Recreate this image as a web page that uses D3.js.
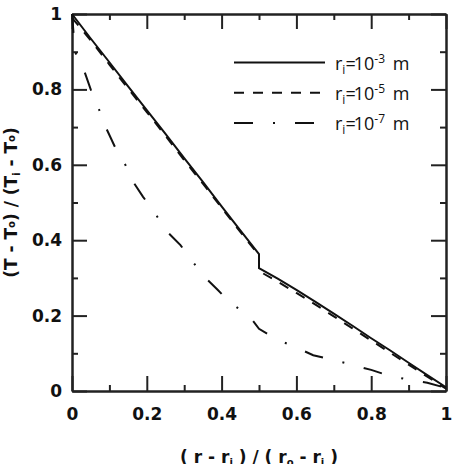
<!DOCTYPE html>
<html>
<head>
<meta charset="utf-8">
<script src="https://cdn.jsdelivr.net/npm/d3@7"></script>
<style>
  body { margin: 0; background: #fff; }
  svg { display: block; }
</style>
</head>
<body>
<div id="chart"></div>
<script>
var w = 456;
var h = 464;

// r_i = 1e-3 m (solid)
var x1 = [0, 0.05, 0.1, 0.15, 0.2, 0.25, 0.3, 0.35, 0.4, 0.45, 0.5, 0.5, 0.55, 0.6, 0.65, 0.7, 0.75, 0.8, 0.85, 0.9, 0.95, 1];
var y1 = [1, 0.935, 0.872, 0.808, 0.745, 0.682, 0.618, 0.555, 0.49, 0.426, 0.363, 0.326, 0.298, 0.268, 0.237, 0.205, 0.173, 0.14, 0.108, 0.075, 0.042, 0.01];
// r_i = 1e-5 m (dashed)
var x2 = [0, 0.05, 0.1, 0.15, 0.2, 0.25, 0.3, 0.35, 0.4, 0.45, 0.5, 0.5, 0.55, 0.6, 0.65, 0.7, 0.75, 0.8, 0.85, 0.9, 0.95, 1];
var y2 = [0.99, 0.93, 0.866, 0.802, 0.74, 0.677, 0.612, 0.55, 0.486, 0.422, 0.36, 0.318, 0.29, 0.26, 0.23, 0.198, 0.166, 0.134, 0.102, 0.07, 0.038, 0.006];
// r_i = 1e-7 m (dash-dot)
var x3 = [0, 0.008, 0.032, 0.05, 0.07, 0.09, 0.115, 0.137, 0.16, 0.19, 0.222, 0.25, 0.29, 0.32, 0.35, 0.39, 0.42, 0.476, 0.5, 0.545, 0.596, 0.645, 0.7, 0.75, 0.8, 0.85, 0.9, 0.95, 1];
var y3 = [1, 0.9, 0.851, 0.8, 0.753, 0.7, 0.647, 0.613, 0.56, 0.515, 0.472, 0.427, 0.387, 0.347, 0.307, 0.268, 0.237, 0.196, 0.165, 0.138, 0.117, 0.095, 0.082, 0.069, 0.056, 0.04, 0.03, 0.022, 0.008];

var majorTicks = [0, 0.2, 0.4, 0.6, 0.8, 1];
var minorTicks = [0.1, 0.3, 0.5, 0.7, 0.9];
var tickLabels = ["0", "0.2", "0.4", "0.6", "0.8", "1"];
var legendExp = ["-3", "-5", "-7"];

var pL = 72, pR = 446, pT = 14, pB = 391;

var svg = d3.select("#chart").append("svg")
            .attr("width", w)
            .attr("height", h);

var x = d3.scaleLinear().domain([0, 1]).range([pL, pR]);
var y = d3.scaleLinear().domain([0, 1]).range([pB, pT]);

function styleAxis(g) {
  g.selectAll("path").attr("stroke", "#222").attr("stroke-width", 2);
  g.selectAll("line").attr("stroke", "#222").attr("stroke-width", 2);
  g.selectAll("text").attr("font-family", "DejaVu Sans").attr("font-weight", "bold")
    .attr("font-size", "17px").attr("fill", "#111");
}

function fmt(d) { return tickLabels[majorTicks.indexOf(d)]; }

// bottom
svg.append("g").attr("transform", "translate(0," + pB + ")")
   .call(d3.axisBottom(x).tickValues(majorTicks).tickFormat(fmt).tickSizeInner(-15).tickSizeOuter(0).tickPadding(17))
   .call(styleAxis);
svg.append("g").attr("transform", "translate(0," + pB + ")")
   .call(d3.axisBottom(x).tickValues(minorTicks).tickFormat("").tickSizeInner(-6).tickSizeOuter(0))
   .call(styleAxis);
// top
svg.append("g").attr("transform", "translate(0," + pT + ")")
   .call(d3.axisTop(x).tickValues(majorTicks).tickFormat("").tickSizeInner(-15).tickSizeOuter(0))
   .call(styleAxis);
svg.append("g").attr("transform", "translate(0," + pT + ")")
   .call(d3.axisTop(x).tickValues(minorTicks).tickFormat("").tickSizeInner(-6).tickSizeOuter(0))
   .call(styleAxis);
// left
svg.append("g").attr("transform", "translate(" + pL + ",0)")
   .call(d3.axisLeft(y).tickValues(majorTicks).tickFormat(fmt).tickSizeInner(-15).tickSizeOuter(0).tickPadding(10))
   .call(styleAxis);
svg.append("g").attr("transform", "translate(" + pL + ",0)")
   .call(d3.axisLeft(y).tickValues(minorTicks).tickFormat("").tickSizeInner(-6).tickSizeOuter(0))
   .call(styleAxis);
// right
svg.append("g").attr("transform", "translate(" + pR + ",0)")
   .call(d3.axisRight(y).tickValues(majorTicks).tickFormat("").tickSizeInner(-15).tickSizeOuter(0))
   .call(styleAxis);
svg.append("g").attr("transform", "translate(" + pR + ",0)")
   .call(d3.axisRight(y).tickValues(minorTicks).tickFormat("").tickSizeInner(-6).tickSizeOuter(0))
   .call(styleAxis);

var line = d3.line().x(function(d) { return x(d[0]); }).y(function(d) { return y(d[1]); });

var series = [
  { xs: x1, ys: y1, dash: null },
  { xs: x2, ys: y2, dash: "10,9" },
  { xs: x3, ys: y3, dash: "19,20,2,20" }
];

series.forEach(function(s) {
  var pts = s.xs.map(function(v, i) { return [v, s.ys[i]]; });
  svg.append("path")
     .attr("d", line(pts))
     .attr("fill", "none")
     .attr("stroke", "#111")
     .attr("stroke-width", 2)
     .attr("stroke-dasharray", s.dash);
});

// legend
var legend = svg.selectAll("g.legend")
                .data(series)
                .enter()
                .append("g")
                .attr("class", "legend")
                .attr("transform", function(d, i) { return "translate(0," + (62.5 + i * 30.2) + ")"; });

legend.append("line")
      .attr("x1", 234).attr("x2", 325)
      .attr("y1", 0).attr("y2", 0)
      .attr("stroke", "#111")
      .attr("stroke-width", 2)
      .attr("stroke-dasharray", function(d) { return d.dash; });

var lt = legend.append("text")
      .attr("x", 335).attr("y", 7.5)
      .attr("font-family", "Open Sans")
      .attr("font-size", "18px")
      .attr("fill", "#111");
lt.append("tspan").text("r");
lt.append("tspan").attr("font-size", "12px").attr("dy", 4).text("i");
lt.append("tspan").attr("dy", -4).attr("letter-spacing", "-2px").text("=");
lt.append("tspan").text("10");
lt.append("tspan").attr("font-size", "12px").attr("dy", -7).text(function(d, i) { return legendExp[i]; });
lt.append("tspan").attr("dy", 7).attr("dx", 3).text(" m");

// axis titles
var xt = svg.append("text")
   .attr("x", (pL + pR) / 2)
   .attr("y", 463)
   .attr("text-anchor", "middle")
   .attr("font-family", "DejaVu Sans")
   .attr("font-weight", "bold")
   .attr("font-size", "17px")
   .attr("fill", "#111");
xt.append("tspan").text("( r - r");
xt.append("tspan").attr("font-size", "10px").attr("dy", 3).text("i");
xt.append("tspan").attr("dy", -3).text(" ) / ( r");
xt.append("tspan").attr("font-size", "10px").attr("dy", 3).text("o");
xt.append("tspan").attr("dy", -3).text(" - r");
xt.append("tspan").attr("font-size", "10px").attr("dy", 3).text("i");
xt.append("tspan").attr("dy", -3).text(" )");

var yt = svg.append("text")
   .attr("transform", "translate(17," + ((pT + pB) / 2) + ") rotate(-90)")
   .attr("text-anchor", "middle")
   .attr("font-family", "DejaVu Sans")
   .attr("font-weight", "bold")
   .attr("font-size", "17px")
   .attr("fill", "#111");
yt.append("tspan").text("(T - T");
yt.append("tspan").attr("font-size", "10px").attr("dy", -2).text("o");
yt.append("tspan").attr("dy", 2).text(") / (T");
yt.append("tspan").attr("font-size", "10px").attr("dy", 3).text("i");
yt.append("tspan").attr("dy", -3).text(" - T");
yt.append("tspan").attr("font-size", "10px").attr("dy", -2).text("o");
yt.append("tspan").attr("dy", 2).text(")");
</script>
</body>
</html>
